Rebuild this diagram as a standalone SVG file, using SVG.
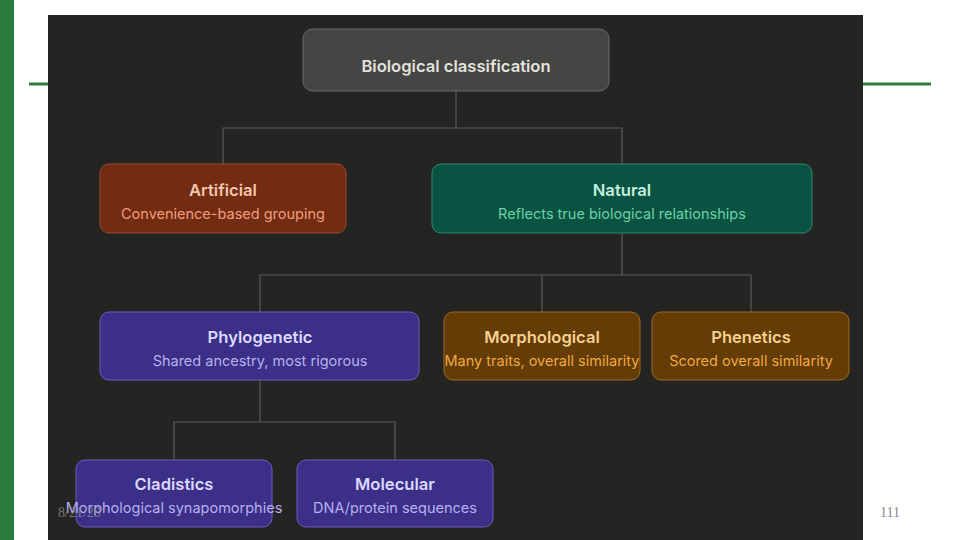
<svg xmlns="http://www.w3.org/2000/svg" width="960" height="540" viewBox="0 0 960 540">
<style>
.t{font-family:Inter,"Noto Sans",sans-serif;font-size:16.6px;font-weight:600;text-anchor:middle}
.s{font-family:Inter,"Noto Sans",sans-serif;font-size:14.5px;font-weight:400;text-anchor:middle}
.c{fill:none;stroke:#5a5a58;stroke-width:1.2}
.ft{font-family:"Liberation Serif",serif;font-size:14px;fill:#8a8a8a}
</style>
<rect x="0" y="0" width="960" height="540" fill="#ffffff"/>
<rect x="0" y="0" width="14" height="540" fill="#2a7d3c"/>
<rect x="29" y="82.5" width="902" height="3" fill="#2e7d3a"/>
<rect x="48" y="15" width="815" height="525" fill="#242422"/>
<g id="connectors" class="c">
<path d="M456 91V128M223 164V128H622V164"/>
<path d="M622 233V275M260 312V275H751V312M542 275V312"/>
<path d="M260 380V422M174 460V422H395V460"/>
</g>
<g id="root">
<rect x="303" y="29" width="306" height="62" rx="10" fill="#454543" stroke="#6a6a68"/>
<text class="t" x="456" y="72" fill="#e2e2de">Biological classification</text>
</g>
<g id="artificial">
<rect x="100" y="164" width="246" height="69" rx="9" fill="#712c12" stroke="#9a4a30"/>
<text class="t" x="223" y="196" fill="#f6c6aa">Artificial</text>
<text class="s" x="223" y="219" fill="#f09c7c">Convenience-based grouping</text>
</g>
<g id="natural">
<rect x="432" y="164" width="380" height="69" rx="9" fill="#0a5242" stroke="#2a8a6a"/>
<text class="t" x="622" y="196" fill="#c2eedd">Natural</text>
<text class="s" x="622" y="219" fill="#6cd0a6">Reflects true biological relationships</text>
</g>
<g id="phylogenetic">
<rect x="100" y="312" width="319" height="68" rx="9" fill="#3b2f87" stroke="#6a5ebf"/>
<text class="t" x="260" y="343" fill="#dcd8ff">Phylogenetic</text>
<text class="s" x="260" y="366" fill="#b8b0f0">Shared ancestry, most rigorous</text>
</g>
<g id="morphological">
<rect x="444" y="312" width="196" height="68" rx="9" fill="#633c06" stroke="#9a6a20"/>
<text class="t" x="542" y="343" fill="#f8d090">Morphological</text>
<text class="s" x="542" y="366" fill="#f0a840">Many traits, overall similarity</text>
</g>
<g id="phenetics">
<rect x="652" y="312" width="197" height="68" rx="9" fill="#633c06" stroke="#9a6a20"/>
<text class="t" x="751" y="343" fill="#f8d090">Phenetics</text>
<text class="s" x="751" y="366" fill="#f0a840">Scored overall similarity</text>
</g>
<g id="cladistics">
<rect x="76" y="460" width="196" height="67" rx="9" fill="#3b2f87" stroke="#6a5ebf"/>
<text class="t" x="174" y="490" fill="#dcd8ff">Cladistics</text>
<text class="s" x="174" y="513" fill="#b8b0f0">Morphological synapomorphies</text>
</g>
<g id="molecular">
<rect x="297" y="460" width="196" height="67" rx="9" fill="#3b2f87" stroke="#6a5ebf"/>
<text class="t" x="395" y="490" fill="#dcd8ff">Molecular</text>
<text class="s" x="395" y="513" fill="#b8b0f0">DNA/protein sequences</text>
</g>
<text class="ft" x="58" y="517" opacity="0.8">8/21/20</text>
<text class="ft" x="880" y="517">111</text>
</svg>
